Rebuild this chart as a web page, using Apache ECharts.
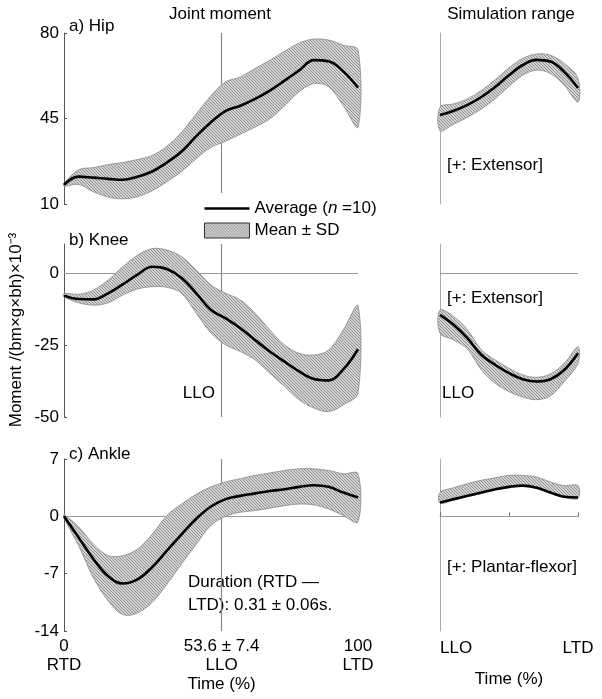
<!DOCTYPE html>
<html>
<head>
<meta charset="utf-8">
<script src="https://cdn.jsdelivr.net/npm/echarts@6/dist/echarts.min.js"></script>
<style>html,body{margin:0;padding:0;background:#fff}#c{width:602px;height:699px}</style>
</head>
<body>
<div id="c"></div>
<script>
// ---------- DATA ----------
const timePct = [0,5,10,15,20,25,30,35,40,45,50,55,60,65,70,75,80,85,90,95,100];
const hipMean  = [17.9,21.2,20.8,20.3,19.9,21.2,23.3,27,31.5,37.8,43.5,48.1,50.2,53,56.4,60.5,64.7,68.9,68.4,64.3,57.6];
const hipUpper = [18.5,24,24.9,26.1,27,28.2,29.9,33.6,39.4,46.9,54.3,60,62,65.5,68.8,72.5,75.9,77.5,77.1,75,73];
const hipLower = [17.3,18,15,12.9,12.1,13,15.4,19.1,23.3,28.6,33.2,35.7,38.6,41.5,44.8,50.2,56,59.3,58,50.2,41.5];
const kneeMean  = [-7.9,-9.1,-9.2,-7.1,-4,-0.6,2.1,1.3,-1.8,-7.1,-12.9,-15.8,-19.2,-23.3,-27.3,-30.8,-34.2,-36.8,-37.3,-33.5,-26.5];
const kneeUpper = [-7.2,-7.4,-6,-2.5,2.1,6.1,8.4,7.9,5.6,0.9,-4.2,-7.1,-9.4,-14,-19.8,-25,-27.9,-28.5,-26.8,-19.8,-11.5];
const kneeLower = [-8.3,-10.4,-11.2,-10.4,-7.7,-5.6,-4.8,-5,-7.1,-14,-20.9,-25,-27.3,-30.2,-34.8,-39.4,-44,-46.9,-48.1,-45.8,-41.7];
const ankleMean  = [0,-2.6,-5.2,-7.3,-8.2,-7.7,-6.2,-4.2,-2.2,-0.3,1.2,2.1,2.5,2.8,3.1,3.3,3.6,3.8,3.6,2.9,2.3];
const ankleUpper = [0.2,-1.3,-3.4,-4.8,-4.8,-4,-2.2,0.1,1.5,2.7,3.6,4.2,4.6,5,5.3,5.6,5.8,5.8,5.6,5.2,5.2];
const ankleLower = [-0.2,-3.6,-7.5,-10.3,-12,-11.8,-10.5,-8.3,-5.8,-3.4,-1.1,0,0.5,0.7,1,1.3,1.5,1.4,0.9,0.1,-0.7];

// Simulation range (LLO -> LTD, normalised 0..100)
const simPct = [0,10,20,30,40,50,60,70,80,90,100];
const simHipMean  = [46.4,48.2,50.6,53.8,57.9,62.7,66.9,69,68.3,64.1,57.5];
const simHipUpper = [49.6,51,53.1,56.5,60.9,65.8,69.6,71.4,70.9,67.6,61.4];
const simHipLower = [40,42.7,45.5,48.9,53.1,58.2,62.7,64.8,63.4,58.6,51.7];
const simKneeMean  = [-14.6,-18.1,-22.7,-28.5,-31.9,-34.8,-36.9,-37.7,-36.9,-33.7,-27.9];
const simKneeUpper = [-12.9,-15.2,-19.8,-26.7,-30.2,-33.1,-35.4,-36.2,-35.1,-31.4,-25.6];
const simKneeLower = [-20.9,-23.3,-26.5,-33.7,-38.3,-41.2,-43.1,-44,-42.7,-37.7,-31.4];
const simAnkleMean  = [1.7,2.1,2.5,2.9,3.3,3.6,3.75,3.5,2.9,2.4,2.3];
const simAnkleUpper = [2.9,3.5,4,4.4,4.7,5,5,4.8,4.2,3.75,3.75];
const simAnkleLower = [1.6,2.0,2.4,2.8,3.2,3.5,3.65,3.4,2.8,2.3,2.2];

const lloPct = 53.6;
const hipTicks = [10,45,80];
const kneeTicks = [-50,-25,0];
const ankleTicks = [-14,-7,0,7];

// ---------- STYLE HELPERS ----------
const FONT = 'Liberation Sans, Arial, sans-serif';
const FS = 17;
function makeHatch(){
  const c = document.createElement('canvas');
  c.width = 3; c.height = 3;
  const g = c.getContext('2d');
  g.fillStyle = '#d4d4d4'; g.fillRect(0,0,3,3);
  g.fillStyle = '#8e8e8e';
  for (let k=0;k<3;k++) g.fillRect(k,k,1,1);
  return c;
}
const hatch = {image: makeHatch(), repeat: 'repeat'};

const AVG = 'Average (n =10)';
const SD = 'Mean \u00b1 SD';

const grids = [
  {left:64, top:33, width:294, height:171},
  {left:64, top:244, width:294, height:173},
  {left:64, top:459, width:294, height:172},
  {left:440, top:33, width:138, height:171},
  {left:440, top:244, width:138, height:173},
  {left:440, top:459, width:138, height:172}
];
const yRanges = [[10,80,hipTicks],[-50,10,kneeTicks],[-14,7,ankleTicks]];

const xAxes = [], yAxes = [], series = [];
for (let i=0;i<6;i++){
  const left = i<3, bottom = (i%3)===2;
  const xa = {gridIndex:i, type:'value', min:0, max:100, interval:50,
    show: bottom, splitLine:{show:false},
    axisLine:{show:bottom, lineStyle:{color:'#888', width:1}},
    axisTick:{show:bottom, inside:true, length:4, lineStyle:{color:'#666'}},
    axisLabel:{show:false}};
  if (bottom && left){
    xa.axisTick.customValues = [0,50,100];
    xa.axisLabel = {show:true, customValues:[0,lloPct,100], color:'#000', fontSize:FS, fontFamily:FONT, lineHeight:19, margin:6,
      formatter: v => v===0 ? '0\nRTD' : (v===100 ? '100\nLTD' : '53.6 \u00b1 7.4\nLLO')};
    xa.name = 'Time (%)'; xa.nameLocation = 'middle'; xa.nameGap = 43;
    xa.nameTextStyle = {color:'#000', fontSize:FS, fontFamily:FONT, padding:[0,0,0,(lloPct-50)*2.94*2]};
  }
  if (bottom && !left){
    xa.axisTick.customValues = [0,50,100];
    xa.axisLabel = {show:true, customValues:[0,100], color:'#000', fontSize:FS, fontFamily:FONT, margin:9,
      alignMinLabel:'left', formatter: v => v===0 ? 'LLO' : 'LTD'};
    xa.name = 'Time (%)'; xa.nameLocation = 'middle'; xa.nameGap = 40;
    xa.nameTextStyle = {color:'#000', fontSize:FS, fontFamily:FONT};
  }
  xAxes.push(xa);
  const r = yRanges[i%3];
  const ya = {gridIndex:i, type:'value', min:r[0], max:r[1], splitLine:{show:false},
    axisLine:{show:true, lineStyle:{color: left ? '#555' : '#aaa', width:1}},
    axisTick:{show:left, inside:true, length:3, customValues:r[2], lineStyle:{color:'#555'}},
    axisLabel:{show:left, customValues:r[2], color:'#000', fontSize:FS, fontFamily:FONT, margin:5}};
  yAxes.push(ya);
}

function bandSeries(idx, xs, up, lo){
  return {type:'custom', name:SD, xAxisIndex:idx, yAxisIndex:idx, z:2, silent:true,
    itemStyle:{color:hatch},
    data:[[xs[0], up[0]]],
    renderItem:function(params, api){
      const pts = [];
      for (let k=0;k<xs.length;k++) pts.push(api.coord([xs[k], up[k]]));
      for (let k=xs.length-1;k>=0;k--) pts.push(api.coord([xs[k], lo[k]]));
      return {type:'polygon', shape:{points:pts, smooth:0.35},
        style:{fill:hatch, stroke:'#8a8a8a', lineWidth:0.8}};
    }};
}
function meanSeries(idx, xs, ys, marks){
  const s = {type:'line', name:AVG, xAxisIndex:idx, yAxisIndex:idx, z:5, smooth:0.4, symbol:'none', showSymbol:false, silent:true,
    lineStyle:{color:'#000', width:2.6}, itemStyle:{color:'#000'},
    data: xs.map((x,k)=>[x, ys[k]])};
  if (marks && marks.length){
    s.markLine = {silent:true, symbol:'none', label:{show:false}, animation:false, z:1, data:marks};
  }
  return s;
}
const gray = {color:'#8a8a8a', width:1.2, type:'solid'};
const zeroL = {color:'#999', width:1.2, type:'solid'};

// left panels
series.push(bandSeries(0, timePct, hipUpper, hipLower));
series.push(meanSeries(0, timePct, hipMean, [[{coord:[lloPct,14.5], lineStyle:gray},{coord:[lloPct,80]}]]));
series.push(bandSeries(1, timePct, kneeUpper, kneeLower));
series.push(meanSeries(1, timePct, kneeMean, [
  [{coord:[lloPct,-50], lineStyle:gray},{coord:[lloPct,10]}],
  [{coord:[0,0], lineStyle:zeroL},{coord:[100,0]}]]));
series.push(bandSeries(2, timePct, ankleUpper, ankleLower));
series.push(meanSeries(2, timePct, ankleMean, [
  [{coord:[lloPct,-14], lineStyle:gray},{coord:[lloPct,7]}],
  [{coord:[0,0], lineStyle:zeroL},{coord:[100,0]}]]));
// right panels
series.push(bandSeries(3, simPct, simHipUpper, simHipLower));
series.push(meanSeries(3, simPct, simHipMean, []));
series.push(bandSeries(4, simPct, simKneeUpper, simKneeLower));
series.push(meanSeries(4, simPct, simKneeMean, [[{coord:[0,0], lineStyle:zeroL},{coord:[100,0]}]]));
series.push(bandSeries(5, simPct, simAnkleUpper, simAnkleLower));
series.push(meanSeries(5, simPct, simAnkleMean, [[{coord:[0,0], lineStyle:zeroL},{coord:[100,0]}]]));

function txt(x, y, text, extra){
  return Object.assign({type:'text', x:x, y:y, silent:true,
    style:Object.assign({text:text, fill:'#000', font:FS+'px '+FONT, textVerticalAlign:'middle'}, extra||{})});
}

const option = {
  animation:false,
  backgroundColor:'#fff',
  grid: grids,
  xAxis: xAxes,
  yAxis: yAxes,
  legend:{
    left:199, top:195, orient:'vertical', itemWidth:45, itemHeight:15, itemGap:5,
    selectedMode:false, symbolKeepAspect:true,
    textStyle:{color:'#000', fontSize:FS, fontFamily:FONT, rich:{i:{fontStyle:'italic', fontSize:FS, fontFamily:FONT, color:'#000'}}},
    formatter: n => n===AVG ? 'Average ({i|n} =10)' : n,
    data:[
      {name:AVG, icon:'path://M0,0L45,0L45,2.6L0,2.6Z', itemStyle:{color:'#000'}},
      {name:SD, icon:'rect', itemStyle:{color:hatch, borderColor:'#333', borderWidth:1}}
    ]
  },
  series: series,
  graphic: [
    txt(220, 14, 'Joint moment', {textAlign:'center'}),
    txt(511, 14, 'Simulation range', {textAlign:'center'}),
    txt(69, 26, 'a) Hip'),
    txt(69, 240, 'b) Knee'),
    txt(69, 454, 'c) Ankle'),
    txt(215, 393, 'LLO', {textAlign:'right'}),
    txt(442, 393, 'LLO'),
    txt(447, 165, '[+: Extensor]'),
    txt(447, 298, '[+: Extensor]'),
    txt(447, 567, '[+: Plantar-flexor]'),
    txt(188, 582, 'Duration (RTD \u2014'),
    txt(188, 605, 'LTD): 0.31 \u00b1 0.06s.'),
    {type:'text', x:16, y:330, rotation:Math.PI/2, silent:true,
      style:{text:'Moment /(bm\u00d7g\u00d7bh)\u00d710\u207b\u00b3', fill:'#000', font:FS+'px '+FONT, textAlign:'center', textVerticalAlign:'middle'}}
  ]
};
const chart = echarts.init(document.getElementById('c'), null, {renderer:'canvas'});
chart.setOption(option);
</script>
</body>
</html>
